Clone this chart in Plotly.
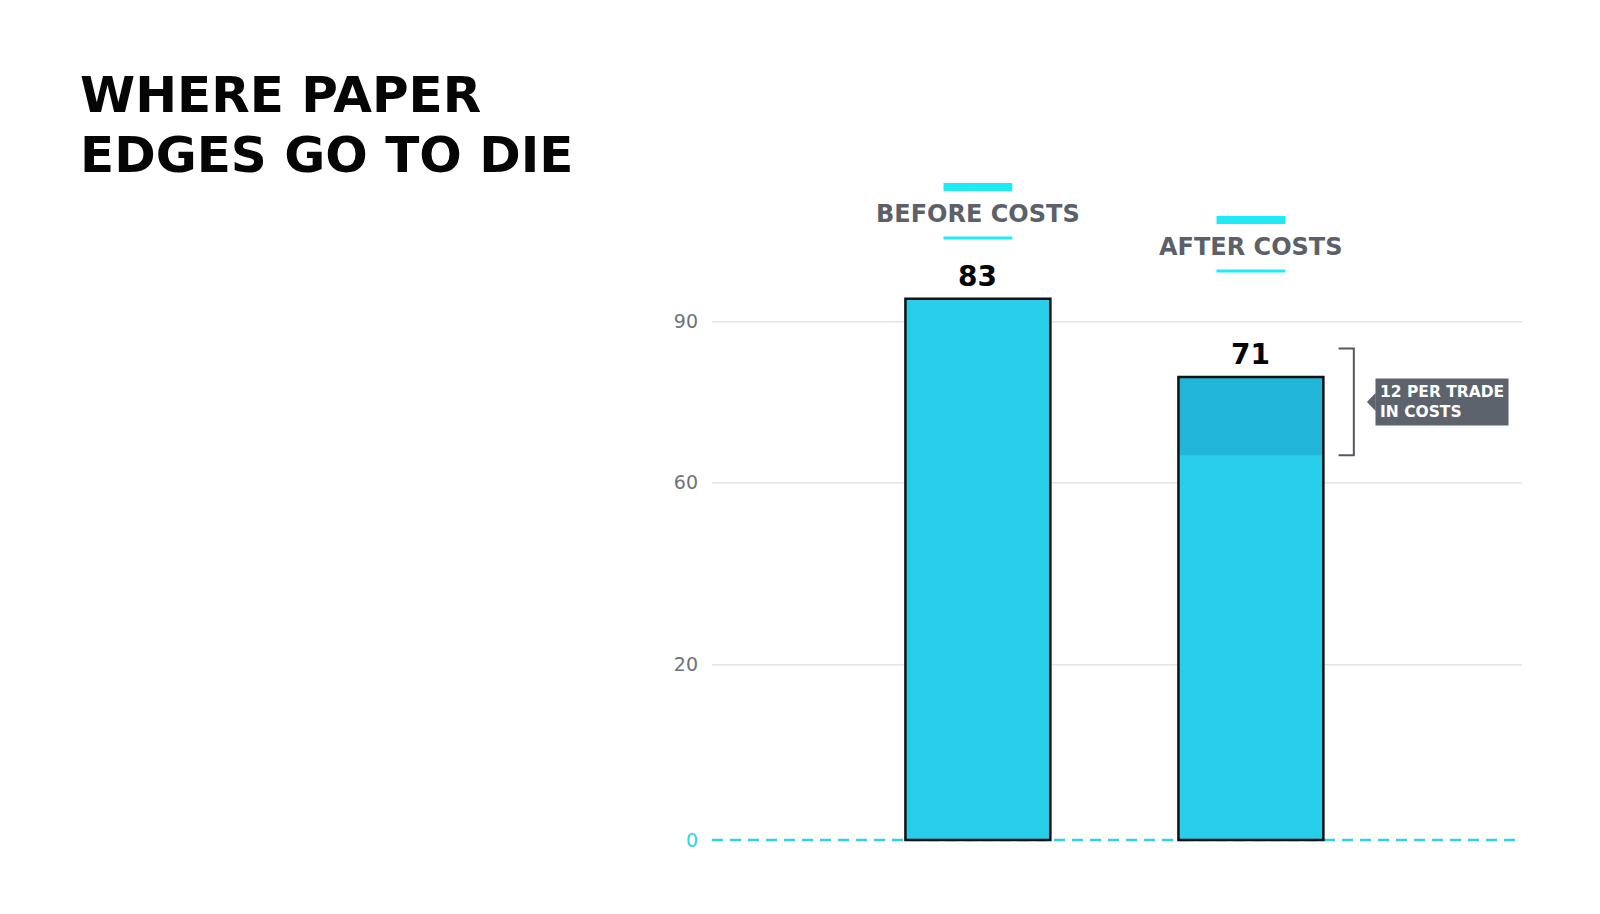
import plotly.graph_objects as go

# Data
categories = ["BEFORE COSTS", "AFTER COSTS"]
edge_values = [83, 71]
cost_per_trade = 12
tick_labels = ["0", "20", "60", "90"]
tick_values = [0, 26.9, 54.8, 79.5]   # where the labels sit on the chart's (uneven) scale

title_lines = ["WHERE PAPER", "EDGES GO TO DIE"]
callout_text = "12 PER TRADE<br>IN COSTS"

# Layout constants (pixels)
W, H = 1600, 914
M_L, M_R, M_T, M_B = 704, 86, 180, 79
PLOT_W = W - M_L - M_R
PLOT_H = H - M_T - M_B

BAR_COLOR = "#28CDEA"
BAND_COLOR = "#21B6D7"
ACCENT = "#1EEBF3"
GREY_TEXT = "#5B6069"
FONT = "'DejaVu Sans', 'Open Sans', sans-serif"


def px_x(px):
    return (px - M_L) / PLOT_W


def px_y(py):
    return (H - M_B - py) / PLOT_H


after = edge_values[1]
bar_width = 0.531

fig = go.Figure()

# fills
fig.add_trace(go.Bar(x=categories, y=edge_values, width=bar_width,
                     marker=dict(color=BAR_COLOR, line=dict(width=0)),
                     hoverinfo="skip"))
# darker cost band at top of the after-costs bar
fig.add_trace(go.Bar(x=[categories[1]], y=[cost_per_trade], base=[after - cost_per_trade],
                     width=bar_width, marker=dict(color=BAND_COLOR, line=dict(width=0)),
                     hoverinfo="skip"))
# outlines on top
fig.add_trace(go.Bar(x=categories, y=edge_values, width=bar_width,
                     marker=dict(color="rgba(0,0,0,0)", line=dict(color="#111111", width=2.5)),
                     hoverinfo="skip"))

shapes = []
# grid lines (not at zero)
for tv in tick_values[1:]:
    shapes.append(dict(type="line", xref="paper", yref="y", x0=0, x1=1, y0=tv, y1=tv,
                       line=dict(color="#E4E4E4", width=1.5), layer="below"))
# dashed zero line, under the bars
shapes.append(dict(type="line", xref="paper", yref="y", x0=0, x1=1, y0=0, y1=0,
                   line=dict(color="#2FD3E4", width=2.5, dash="11px,7px"), layer="below"))

annotations = []
# title
for i, line in enumerate(title_lines):
    annotations.append(dict(text=line, xref="paper", yref="paper",
                            x=px_x(70), y=px_y(87 + i * 60), xanchor="left", yanchor="middle",
                            showarrow=False,
                            font=dict(family=FONT, size=50, color="#050505", weight=700)))

# category labels with accent bars
label_y = [206, 239]
for i, cat in enumerate(categories):
    annotations.append(dict(text=cat, x=i, y=px_y(label_y[i]), xref="x", yref="paper",
                            showarrow=False, xanchor="center", yanchor="middle",
                            font=dict(family=FONT, size=24, color=GREY_TEXT, weight=700)))
    shapes.append(dict(type="line", xref="x", yref="paper", x0=i - 0.126, x1=i + 0.126,
                       y0=px_y(label_y[i] - 27), y1=px_y(label_y[i] - 27),
                       line=dict(color=ACCENT, width=8)))
    shapes.append(dict(type="line", xref="x", yref="paper", x0=i - 0.126, x1=i + 0.126,
                       y0=px_y(label_y[i] + 24), y1=px_y(label_y[i] + 24),
                       line=dict(color=ACCENT, width=3)))
    # value label above bar
    annotations.append(dict(text=str(edge_values[i]), x=i, y=edge_values[i], xref="x", yref="y",
                            showarrow=False, xanchor="center", yanchor="bottom", yshift=4,
                            font=dict(family=FONT, size=28, color="#050505", weight=700)))

# bracket around the cost band
b_top = after + 4.4
b_bot = after - cost_per_trade
b_mid = (b_top + b_bot) / 2
shapes.append(dict(type="path", xref="x", yref="y",
                   path=f"M 1.321,{b_top} L 1.377,{b_top} L 1.377,{b_bot} L 1.321,{b_bot}",
                   line=dict(color="#55595F", width=2)))
# callout pointer and box
shapes.append(dict(type="path", xref="x", yref="y",
                   path=f"M 1.425,{b_mid} L 1.457,{b_mid + 1.4} L 1.457,{b_mid - 1.4} Z",
                   fillcolor="#5D636C", line=dict(width=0)))
annotations.append(dict(text=callout_text, x=1.455, y=b_mid, xref="x", yref="y",
                        showarrow=False, xanchor="left", yanchor="middle", align="left",
                        bgcolor="#5D636C", borderpad=4,
                        font=dict(family=FONT, size=15.5, color="white", weight=700)))

tick_text = [f"<span style='color:#2FD3E4'>{tick_labels[0]}</span>"] + tick_labels[1:]

fig.update_layout(
    width=W, height=H,
    margin=dict(l=M_L, r=M_R, t=M_T, b=M_B),
    paper_bgcolor="white", plot_bgcolor="white",
    barmode="overlay", showlegend=False,
    xaxis=dict(range=[-0.974, 1.993], showticklabels=False, showgrid=False,
               zeroline=False, showline=False),
    yaxis=dict(range=[-0.45, 100], tickvals=tick_values, ticktext=tick_text,
               showgrid=False, zeroline=False, showline=False,
               ticks="", ticklabelstandoff=13,
               tickfont=dict(family=FONT, size=19, color="#6E737A")),
    shapes=shapes, annotations=annotations,
)

fig.write_html("out.html")
